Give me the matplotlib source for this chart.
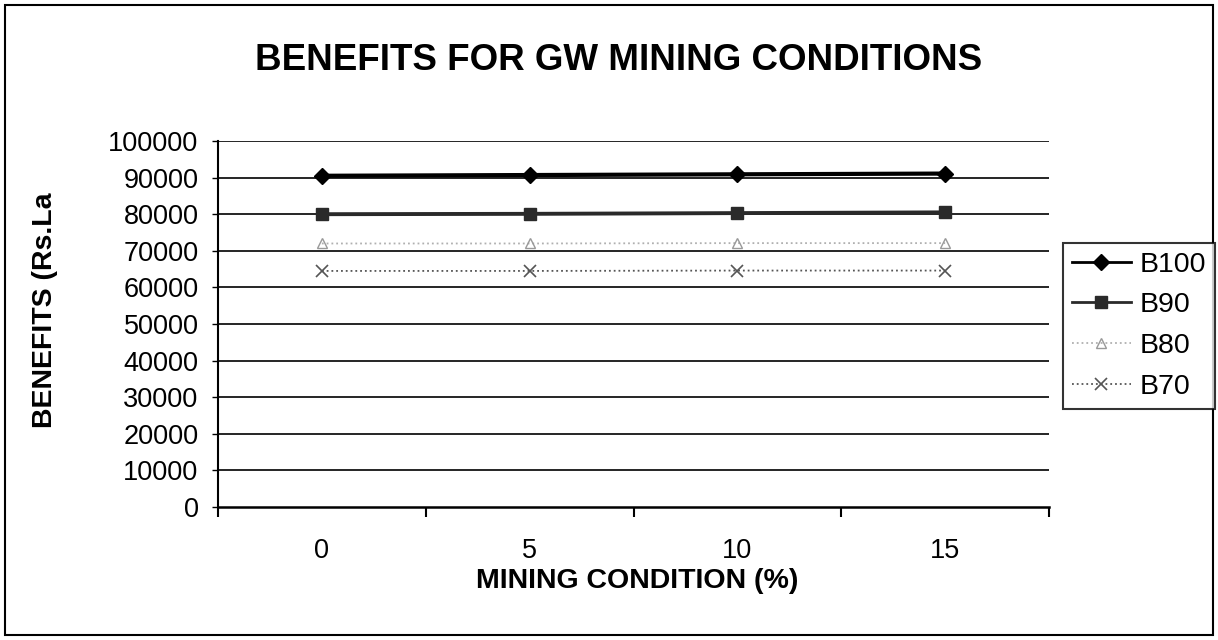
import matplotlib
matplotlib.use("Agg")
import matplotlib.pyplot as plt
from matplotlib.patches import Rectangle

categories = ["0", "5", "10", "15"]
b100 = [90500, 90700, 90900, 91100]
b90 = [80000, 80100, 80300, 80500]
b80 = [72000, 72000, 72100, 72100]
b70 = [64500, 64500, 64600, 64600]
yticks = list(range(0, 100001, 10000))

plt.rcParams['font.family'] = ['Liberation Sans', 'DejaVu Sans']

fig = plt.figure(figsize=(12.18, 6.4), dpi=100)
ax = fig.add_axes([218/1218, 1-507/640, (1049-218)/1218, (507-141)/640])

x = list(range(len(categories)))
ax.plot(x, b100, color='black', lw=3, marker='D', ms=8, label='B100')
ax.plot(x, b90, color='#2a2a2a', lw=2.8, marker='s', ms=8, label='B90')
ax.plot(x, b80, color='#b0b0b0', lw=1.3, ls=':', marker='^', ms=7,
        mfc='none', mec='#999999', label='B80')
ax.plot(x, b70, color='#555555', lw=1.3, ls=':', marker='x', ms=9, mew=1.2,
        label='B70')

ax.set_xlim(-0.5, len(categories) - 0.5)
ax.set_ylim(0, 100000)
ax.set_yticks(yticks)
ax.set_yticklabels([str(v) for v in yticks], fontsize=19.5)
for v in yticks[1:]:
    ax.axhline(v, color='black', lw=1.2, zorder=0)

ax.set_xticks([i - 0.5 for i in range(len(categories) + 1)])
ax.set_xticklabels([])
ax.set_xticks(x, minor=True)
ax.set_xticklabels(categories, minor=True, fontsize=19.5)
ax.tick_params(axis='x', which='minor', length=0, pad=22)
ax.tick_params(axis='x', which='major', length=7, width=1.5, direction='out')
ax.tick_params(axis='y', length=4, width=1, direction='out', pad=10)

ax.spines['top'].set_visible(False)
ax.spines['right'].set_visible(False)
ax.spines['left'].set_linewidth(1.5)
ax.spines['bottom'].set_linewidth(1.8)

fig.text(619/1218, 1-60/640, "BENEFITS FOR GW MINING CONDITIONS", ha='center', va='center',
         fontsize=26.5, fontweight='bold')
fig.text(637/1218, 1-581/640, "MINING CONDITION (%)", ha='center', va='center',
         fontsize=20.5, fontweight='bold')
fig.text(45/1218, 1-310/640, "BENEFITS (Rs.La", ha='center', va='center',
         rotation=90, fontsize=20.5, fontweight='bold')

leg = fig.legend(loc='upper left', bbox_to_anchor=(1063/1218, 1-243/640),
                 fontsize=20.5, frameon=True, fancybox=False, edgecolor='black',
                 handlelength=2.1, handletextpad=0.3, borderpad=0.3,
                 labelspacing=0.52, borderaxespad=0)
leg.get_frame().set_linewidth(1.5)
for h in leg.get_lines()[:2]:
    h.set_linewidth(2)

fig.patches.append(Rectangle((5/1218, 5/640), 1208/1218, 630/640, transform=fig.transFigure,
                             fill=False, edgecolor='black', lw=1.5))

fig.savefig("out.png", dpi=100)
